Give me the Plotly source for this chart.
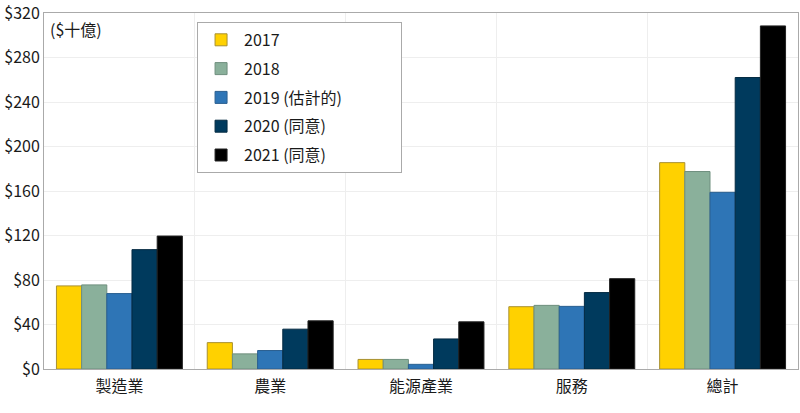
import plotly.graph_objects as go

categories = ["製造業", "農業", "能源產業", "服務", "總計"]
series_names = ["2017", "2018", "2019 (估計的)", "2020 (同意)", "2021 (同意)"]
v2017 = [74.7, 23.7, 8.6, 56.0, 185.5]
v2018 = [75.6, 13.6, 8.6, 57.2, 177.5]
v2019 = [67.8, 16.6, 4.2, 56.3, 158.8]
v2020 = [107.3, 35.8, 27.0, 68.7, 262.0]
v2021 = [119.5, 43.3, 42.4, 81.2, 308.4]
y_tick_vals = [0, 40, 80, 120, 160, 200, 240, 280, 320]
y_tick_text = ["$0", "$40", "$80", "$120", "$160", "$200", "$240", "$280", "$320"]
unit_label = "($十億)"

series_values = [v2017, v2018, v2019, v2020, v2021]
fills = ["#FFD100", "#8AB09B", "#2E75B6", "#003A5D", "#000000"]
outlines = ["#A89030", "#6F8F7E", "#2A5F90", "#042A42", "#222222"]

FONT = "Noto Sans CJK TC"
TXT = "#1a1a1a"
xpos = list(range(len(categories)))
LEGEND_PAD = "\u00a0" * 15  # widens the legend box like the reference

fig = go.Figure()
for i, (name, vals) in enumerate(zip(series_names, series_values)):
    fig.add_trace(go.Bar(
        x=xpos, y=vals, name=name + (LEGEND_PAD if i == 2 else ""), legendgroup=name,
        marker=dict(color=fills[i], line=dict(color=outlines[i], width=1)),
    ))

fig.update_layout(
    width=800, height=413,
    margin=dict(l=44, r=2, t=13, b=44, autoexpand=False),
    paper_bgcolor="white", plot_bgcolor="white",
    barmode="group", bargap=0.165, bargroupgap=0,
    font=dict(family=FONT, size=16, color=TXT),
    legend=dict(
        x=0.203, y=0.975, xanchor="left", yanchor="top",
        bordercolor="#aaaaaa", borderwidth=1, bgcolor="white",
        font=dict(family=FONT, size=16, color=TXT),
        tracegroupgap=5, itemwidth=36,
    ),
    xaxis=dict(
        range=[-0.5, 4.5], tickvals=xpos, ticktext=categories,
        showgrid=False, zeroline=False, automargin=False,
        showline=True, linecolor="#aaaaaa", linewidth=1, mirror=True,
        ticks="", ticklabelstandoff=3, tickfont=dict(family=FONT, size=16, color=TXT),
        minor=dict(tick0=0.5, dtick=1, showgrid=True, gridcolor="#eeeeee", gridwidth=1, ticks=""),
    ),
    yaxis=dict(
        range=[0, 320], tickvals=y_tick_vals, ticktext=y_tick_text,
        showgrid=True, gridcolor="#eeeeee", gridwidth=1, zeroline=False, automargin=False,
        showline=True, linecolor="#aaaaaa", linewidth=1, mirror=True,
        ticks="", ticklabeloverflow="allow", tickfont=dict(family=FONT, size=16, color=TXT),
    ),
    annotations=[dict(
        text=unit_label, xref="paper", yref="paper", x=0.005, y=0.995,
        xanchor="left", yanchor="top", showarrow=False,
        font=dict(family=FONT, size=16, color=TXT),
    )],
)

fig.write_html(
    "out.html",
    config={"displayModeBar": False},
    post_script="document.body.style.margin='0px';document.body.style.overflow='hidden';",
)
